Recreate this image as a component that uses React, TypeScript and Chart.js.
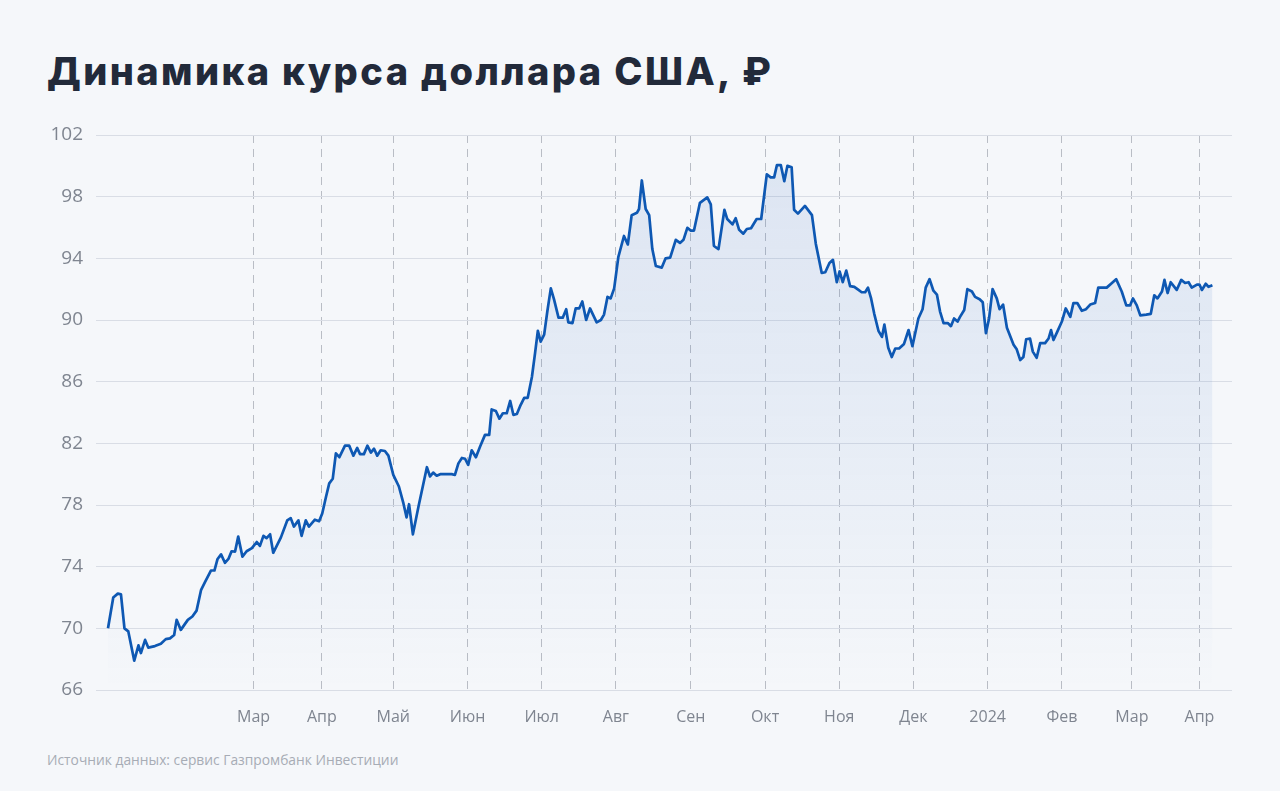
import React, { useEffect, useRef } from "react";
import { Chart, registerables } from "chart.js";

Chart.register(...registerables);

// Trading-day index (from late Dec 2022) and USD/RUB rate
const tradingDays = [
  0, 1.5, 2.8, 3.7, 4.7, 5.8, 7.5, 8.7, 9.4, 10.6, 11.5, 13.4, 15.1, 16.5, 17.7, 18.9, 19.6, 20.8, 22.8, 24.1,
  25.3, 26.6, 27.7, 29.4, 30.4, 31.3, 32.3, 33.4, 34.4, 35.3, 36.3, 37.2, 38.4, 39.6, 41.1, 42.5, 43.4, 44.4, 45.3, 46.3,
  47.2, 49.4, 51.2, 52.2, 53.1, 54.4, 55.3, 56.5, 57.4, 59.1, 60.3, 61.2, 62.3, 63.2, 64.2, 65.1, 66.1, 67.7, 68.9, 70.1,
  71.2, 72.0, 73.1, 74.1, 75.1, 76.0, 76.9, 77.9, 79.1, 80.1, 81.5, 83.1, 84.4, 85.3, 86.0, 87.1, 88.7, 91.1, 92.0, 92.9,
  93.9, 94.9, 98.2, 99.1, 100.1, 101.1, 102.0, 102.9, 103.9, 105.1, 106.3, 107.7, 108.9, 109.6, 110.8, 111.8, 112.8, 113.9, 114.9, 115.8,
  116.8, 117.9, 118.9, 119.9, 121.1, 122.0, 122.8, 123.6, 124.6, 125.5, 126.5, 127.4, 128.7, 129.9, 130.9, 131.5, 132.7, 133.6, 134.6, 135.5,
  136.6, 137.7, 139.6, 140.8, 141.7, 142.7, 143.6, 144.6, 145.8, 147.4, 148.5, 149.6, 151.1, 151.7, 152.5, 153.6, 154.6, 155.5, 156.5, 158.2,
  159.3, 160.6, 162.2, 163.4, 164.4, 165.5, 166.5, 167.4, 169.1, 171.2, 172.2, 173.1, 174.4, 176.1, 176.9, 178.4, 179.3, 180.3, 181.5, 182.5,
  183.7, 185.3, 186.6, 188.2, 189.3, 190.3, 191.1, 192.2, 193.2, 194.1, 195.3, 196.0, 197.1, 199.1, 201.1, 202.2, 203.9, 204.9, 206.1, 207.1,
  208.2, 209.0, 209.9, 210.9, 212.0, 213.2, 214.4, 215.3, 216.3, 217.1, 218.0, 218.9, 220.1, 221.1, 221.8, 222.9, 223.9, 224.9, 226.0, 227.4,
  228.7, 229.8, 231.5, 232.7, 233.6, 234.7, 235.8, 236.8, 237.7, 238.7, 239.9, 240.8, 241.7, 242.7, 243.4, 244.6, 245.5, 246.8, 247.7, 249.0,
  249.9, 250.8, 251.7, 252.7, 253.9, 254.7, 255.7, 256.8, 258.7, 259.6, 260.6, 261.5, 262.3, 263.4, 264.2, 265.3, 266.3, 267.7, 268.7, 269.4,
  270.1, 271.1, 272.5, 273.6, 274.9, 275.8, 276.9, 278.2, 279.4, 280.6, 282.0, 282.9, 285.3, 286.8, 288.0, 289.6, 290.9, 292.0, 292.8, 293.9,
  294.9, 296.6, 297.9, 298.9, 299.8, 301.1, 301.8, 302.7, 303.6, 305.3, 306.6, 307.7, 308.7, 309.6, 311.1, 311.8, 312.5, 313.6, 314.4, 315.5,
];

const usdRub = [
  70.0, 72.0, 72.25, 72.2, 70.0, 69.8, 67.9, 68.9, 68.4, 69.25, 68.75, 68.85, 69.0, 69.3, 69.35, 69.57, 70.55, 69.9, 70.55, 70.77,
  71.15, 72.5, 73.0, 73.75, 73.75, 74.5, 74.8, 74.25, 74.5, 75.0, 74.98, 75.95, 74.65, 75.0, 75.2, 75.6, 75.35, 76.0, 75.85, 76.1,
  74.9, 75.9, 77.0, 77.15, 76.6, 77.0, 76.0, 77.0, 76.6, 77.05, 76.95, 77.45, 78.55, 79.4, 79.7, 81.35, 81.1, 81.85, 81.85, 81.2,
  81.7, 81.3, 81.3, 81.85, 81.4, 81.65, 81.2, 81.55, 81.5, 81.2, 79.95, 79.2, 78.1, 77.2, 78.05, 76.1, 77.9, 80.45, 79.85, 80.1,
  79.9, 80.0, 80.0, 79.95, 80.7, 81.05, 81.0, 80.6, 81.55, 81.1, 81.8, 82.55, 82.55, 84.2, 84.1, 83.6, 83.95, 83.95, 84.75, 83.85,
  83.9, 84.5, 84.95, 84.95, 86.3, 87.85, 89.3, 88.6, 89.05, 90.55, 92.05, 91.35, 90.15, 90.15, 90.7, 89.85, 89.8, 90.75, 90.75, 91.2,
  90.0, 90.75, 89.85, 90.0, 90.35, 91.5, 91.4, 92.05, 94.1, 95.45, 94.9, 96.8, 96.95, 97.2, 99.05, 97.2, 96.8, 94.6, 93.5, 93.4,
  94.0, 94.05, 95.2, 95.0, 95.2, 95.98, 95.8, 95.8, 97.6, 97.95, 97.5, 94.8, 94.6, 97.15, 96.55, 96.2, 96.6, 95.85, 95.6, 95.9,
  95.95, 96.55, 96.55, 99.45, 99.25, 99.25, 100.05, 100.05, 99.0, 100.0, 99.9, 97.15, 96.9, 97.4, 96.8, 94.95, 93.05, 93.1, 93.7, 93.9,
  92.45, 93.15, 92.45, 93.2, 92.2, 92.15, 91.95, 91.8, 91.8, 92.1, 91.4, 90.4, 89.3, 88.9, 89.7, 88.2, 87.6, 88.15, 88.15, 88.45,
  89.35, 88.3, 90.1, 90.7, 92.1, 92.65, 91.9, 91.65, 90.55, 89.8, 89.8, 89.6, 90.1, 89.9, 90.2, 90.65, 92.0, 91.85, 91.5, 91.35,
  91.15, 89.15, 90.1, 92.0, 91.4, 90.7, 91.0, 89.5, 88.4, 88.1, 87.4, 87.6, 88.75, 88.8, 87.95, 87.55, 88.5, 88.5, 88.8, 89.35,
  88.7, 89.2, 89.9, 90.75, 90.2, 91.1, 91.1, 90.6, 90.7, 91.0, 91.1, 92.1, 92.1, 92.4, 92.65, 91.85, 90.95, 90.95, 91.4, 90.95,
  90.3, 90.35, 90.4, 91.6, 91.4, 91.85, 92.6, 91.75, 92.45, 91.95, 92.6, 92.4, 92.45, 92.1, 92.3, 92.3, 91.95, 92.35, 92.15, 92.25,
];

// Month boundaries on the trading-day axis and their labels
const monthStarts = [41.6, 61.1, 81.5, 102.7, 123.9, 145.1, 166.5, 187.7, 208.9, 230.1, 251.3, 272.5, 292.5, 311.8];
const monthLabels = ["Мар", "Апр", "Май", "Июн", "Июл", "Авг", "Сен", "Окт", "Ноя", "Дек", "2024", "Фев", "Мар", "Апр"];

const yTicks = [66, 70, 74, 78, 82, 86, 90, 94, 98, 102];

const BG = "#f5f7fa";

export default function App() {
  const canvasRef = useRef<HTMLCanvasElement | null>(null);

  useEffect(() => {
    const canvas = canvasRef.current;
    if (!canvas) return;
    const points = tradingDays.map((d, i) => ({ x: d, y: usdRub[i] }));
    const chart = new Chart(canvas, {
      type: "line",
      data: {
        datasets: [
          {
            data: points,
            borderColor: "#0e58b3",
            borderWidth: 2.7,
            borderJoinStyle: "round",
            pointRadius: 0,
            tension: 0,
            fill: "origin",
            backgroundColor: (ctx: any) => {
              const { chart: ch } = ctx;
              const area = ch.chartArea;
              if (!area) return "rgba(30,95,185,0.08)";
              const g = ch.ctx.createLinearGradient(0, area.top, 0, area.bottom);
              g.addColorStop(0, "rgba(40,100,190,0.12)");
              g.addColorStop(0.6, "rgba(40,100,190,0.06)");
              g.addColorStop(1, "rgba(40,100,190,0.0)");
              return g;
            },
          },
        ],
      },
      options: {
        responsive: false,
        animation: false,
        layout: { padding: { top: 25, right: 48, left: 0, bottom: 0 } },
        plugins: { legend: { display: false }, tooltip: { enabled: false } },
        scales: {
          x: {
            type: "linear",
            min: -3.43,
            max: 321.1,
            afterBuildTicks: (scale: any) => {
              scale.ticks = monthStarts.map((v) => ({ value: v }));
            },
            afterFit: (scale: any) => {
              scale.height = 60;
            },
            grid: {
              color: "#b9bdc5",
              lineWidth: 1,
              drawTicks: false,
            },
            border: { display: false, dash: [8, 6] },
            ticks: {
              autoSkip: false,
              maxRotation: 0,
              padding: 18,
              color: "#7f8590",
              font: { family: "'Open Sans', sans-serif", size: 16 },
              callback: (_v: any, i: number) => monthLabels[i],
            },
          },
          y: {
            min: 66,
            max: 102,
            afterBuildTicks: (scale: any) => {
              scale.ticks = yTicks.map((v) => ({ value: v }));
            },
            afterFit: (scale: any) => {
              scale.width = 96;
            },
            grid: { color: "#d9dde5", lineWidth: 1, drawTicks: false },
            border: { display: false },
            ticks: {
              padding: 13,
              color: "#7f8590",
              font: { family: "'Open Sans', sans-serif", size: 19 },
            },
          },
        },
      },
    });
    return () => chart.destroy();
  }, []);

  return (
    <div
      style={{
        position: "absolute",
        left: 0,
        top: 0,
        width: 1280,
        height: 791,
        background: BG,
        overflow: "hidden",
      }}
    >
      <div
        style={{
          position: "absolute",
          left: 47,
          top: 46,
          fontFamily: "Inter, 'Noto Sans', sans-serif",
          fontWeight: 800,
          fontSize: 38,
          lineHeight: "50px",
          color: "#222a3a",
          whiteSpace: "nowrap",
          letterSpacing: "2.4px",
        }}
      >
        Динамика курса доллара США, ₽
      </div>
      <canvas
        ref={canvasRef}
        width={1280}
        height={640}
        style={{ position: "absolute", left: 0, top: 110, width: 1280, height: 640 }}
      />
      <div
        style={{
          position: "absolute",
          left: 47,
          top: 750,
          fontFamily: "'Open Sans', sans-serif",
          fontSize: 13.8,
          lineHeight: "20px",
          color: "#a7acb5",
          whiteSpace: "nowrap",
        }}
      >
        Источник данных: сервис Газпромбанк Инвестиции
      </div>
    </div>
  );
}
